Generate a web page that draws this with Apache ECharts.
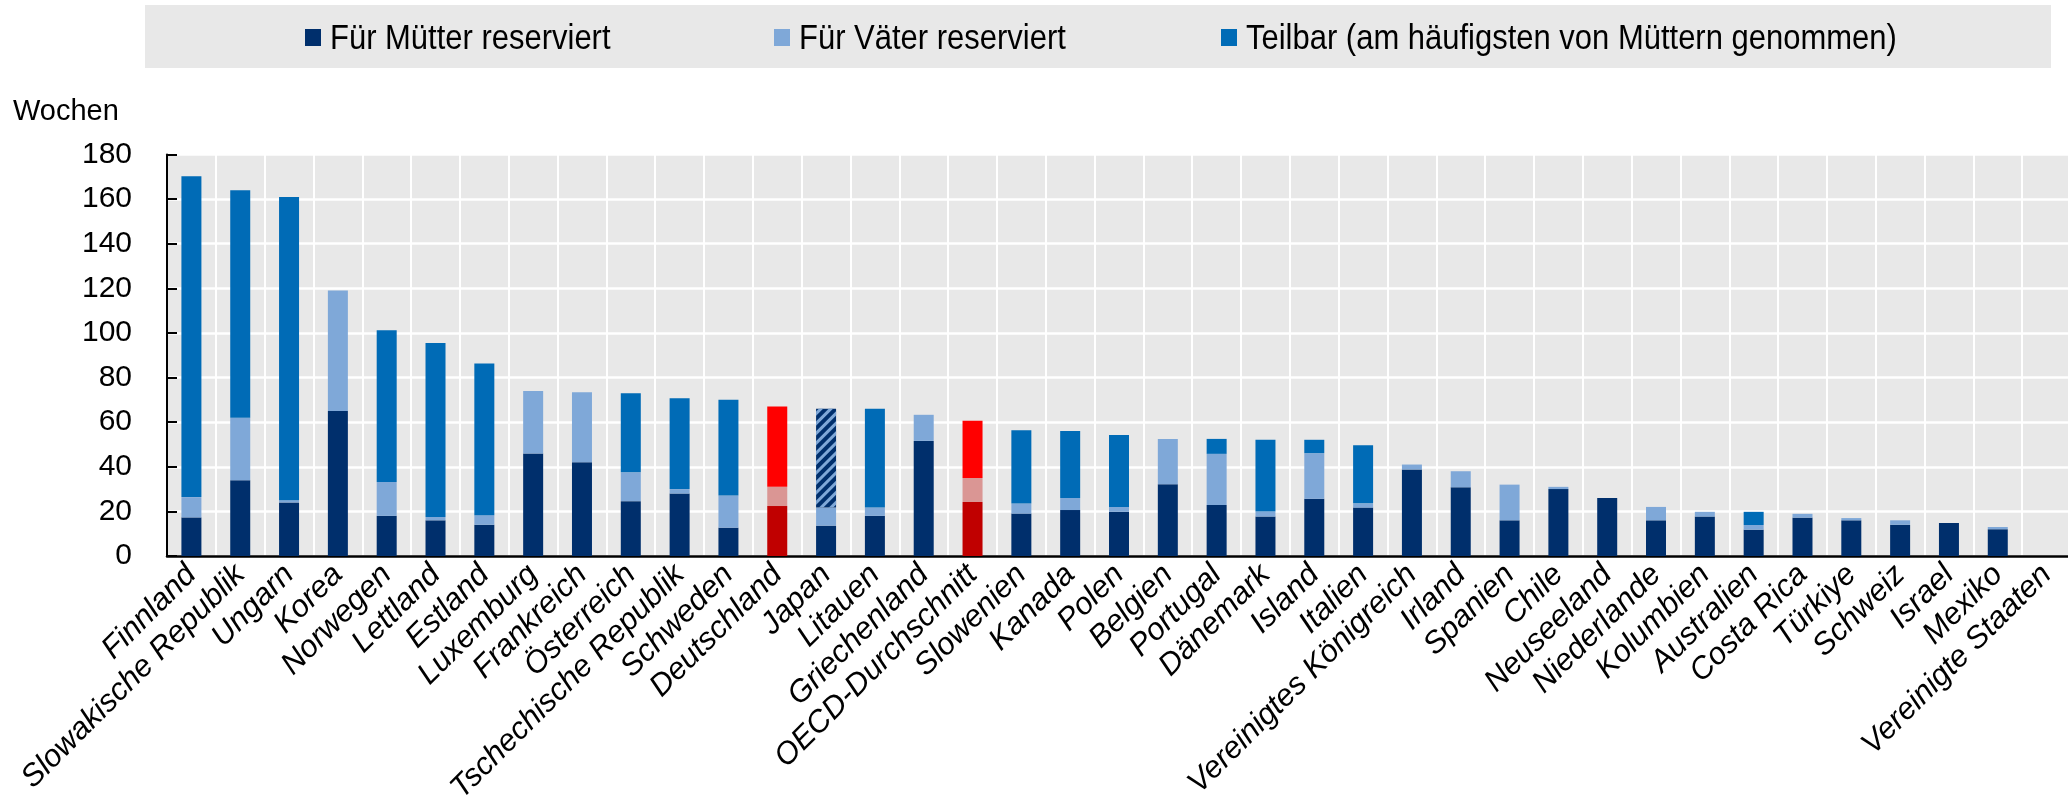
<!DOCTYPE html>
<html>
<head>
<meta charset="utf-8">
<script src="https://cdn.jsdelivr.net/npm/echarts@6/dist/echarts.min.js"></script>
<style>
    html, body { margin: 0; padding: 0; background: #fff; }
    #chart { width: 2068px; height: 809px; }
</style>
</head>
<body>
<div id="chart"></div>
<script>
// Länder (Reihenfolge wie im Original)
const countries = ["Finnland", "Slowakische Republik", "Ungarn", "Korea", "Norwegen", "Lettland", "Estland",
    "Luxemburg", "Frankreich", "Österreich", "Tschechische Republik", "Schweden", "Deutschland", "Japan",
    "Litauen", "Griechenland", "OECD-Durchschnitt", "Slowenien", "Kanada", "Polen", "Belgien", "Portugal",
    "Dänemark", "Island", "Italien", "Vereinigtes Königreich", "Irland", "Spanien", "Chile", "Neuseeland",
    "Niederlande", "Kolumbien", "Australien", "Costa Rica", "Türkiye", "Schweiz", "Israel", "Mexiko",
    "Vereinigte Staaten"]

// Wochen
const mothers = [17.3, 34, 24, 65, 18, 16, 14, 46, 42, 24.6, 28, 12.7, 22.4, 13.6, 18, 51.6, 24.2, 19, 20.6, 19.8,
    32.2, 22.9, 17.7, 25.7, 21.7, 38.8, 30.8, 16, 30, 26, 16, 17.7, 11.8, 17.2, 16, 14, 14.8, 12, 0]
const fathers = [9.1, 28, 1, 54, 15.2, 1.5, 4.3, 28, 31.4, 12.9, 2, 14.4, 8.6, 8.1, 3.7, 11.7, 10.8, 4.5, 5.4, 2.2,
    20.3, 22.9, 2.2, 20.4, 1.9, 2.2, 7.2, 16, 1, 0, 6, 2.1, 2.1, 1.7, 1, 2, 0, 1, 0]
const shared = [143.8, 102, 136, 0, 68, 78, 68, 0, 0, 35.5, 40.7, 42.9, 36, 44.3, 44.3, 0, 25.6, 32.9, 30, 32.2,
    0, 6.7, 32.2, 6, 26, 0, 0, 0, 0, 0, 0, 0, 5.9, 0, 0, 0, 0, 0, 0]

const yTicks = [0, 20, 40, 60, 80, 100, 120, 140, 160, 180]

const seriesNames = ["Für Mütter reserviert", "Für Väter reserviert", "Teilbar (am häufigsten von Müttern genommen)"]

const blue = ["#002F6C", "#7FA8D8", "#006BB6"]
const red = ["#C00000", "#DA9694", "#FF0000"]
const redCountries = ["Deutschland", "OECD-Durchschnitt"]
const hatchCountries = ["Japan"]

const font = "'Liberation Sans', Arial, sans-serif"

function buildData(values, k) {
    return values.map((v, i) => {
        const name = countries[i]
        if (redCountries.includes(name)) {
            return {value: v, itemStyle: {color: red[k]}}
        }
        if (k === 2 && hatchCountries.includes(name)) {
            return {
                value: v,
                itemStyle: {
                    color: blue[0],
                    decal: {
                        symbol: "rect",
                        color: blue[1],
                        dashArrayX: [1, 0],
                        dashArrayY: [3, 4],
                        rotation: -Math.PI / 4
                    }
                }
            }
        }
        return v
    })
}

// Legende als Grafik (schmale Schrift nachgebildet)
const legendX = [305, 774, 1221]
const legendGraphic = []
seriesNames.forEach((name, k) => {
    legendGraphic.push({
        type: "rect",
        x: legendX[k], y: 29,
        shape: {width: 16, height: 17},
        style: {fill: blue[k]}
    })
    legendGraphic.push({
        type: "text",
        x: legendX[k] + 25, y: 39,
        scaleX: 0.885,
        style: {text: name, font: "35px " + font, fill: "#000", verticalAlign: "middle"}
    })
})

const chart = echarts.init(document.getElementById("chart"), null, {renderer: "canvas"})

const option = {
    animation: false,
    graphic: [
        {
            type: "rect",
            x: 145, y: 5,
            shape: {width: 1906, height: 63},
            style: {fill: "#E8E8E8"},
            z: -1
        },
        {
            type: "text",
            x: 13, y: 112,
            style: {text: "Wochen", font: "29px " + font, fill: "#000", verticalAlign: "middle"}
        }
    ].concat(legendGraphic),
    grid: {
        left: 167,
        right: -3,
        top: 154.5,
        bottom: 253,
        outerBoundsMode: "none",
        containLabel: false,
        show: true,
        backgroundColor: "#E8E8E8",
        borderWidth: 0
    },
    xAxis: {
        type: "category",
        data: countries,
        axisLine: {lineStyle: {color: "#000", width: 2.5}},
        axisTick: {inside: true, length: 11, lineStyle: {color: "#000", width: 2}},
        splitLine: {show: true, lineStyle: {color: "#fff", width: 2}},
        axisLabel: {
            interval: 0,
            rotate: 45,
            margin: 14,
            fontSize: 31,
            fontStyle: "italic",
            fontFamily: font,
            color: "#000"
        }
    },
    yAxis: {
        type: "value",
        min: yTicks[0],
        max: yTicks[yTicks.length - 1],
        interval: 20,
        axisLine: {show: true, lineStyle: {color: "#000", width: 2}},
        axisTick: {show: true, inside: true, length: 10, lineStyle: {color: "#000", width: 2}},
        splitLine: {show: true, lineStyle: {color: "#fff", width: 2.5}},
        axisLabel: {margin: 35, fontSize: 30, fontFamily: font, color: "#000"}
    },
    series: [mothers, fathers, shared].map((arr, k) => ({
        name: seriesNames[k],
        type: "bar",
        stack: "total",
        barWidth: 20,
        itemStyle: {color: blue[k]},
        data: buildData(arr, k)
    }))
}

chart.setOption(option)
</script>
</body>
</html>
